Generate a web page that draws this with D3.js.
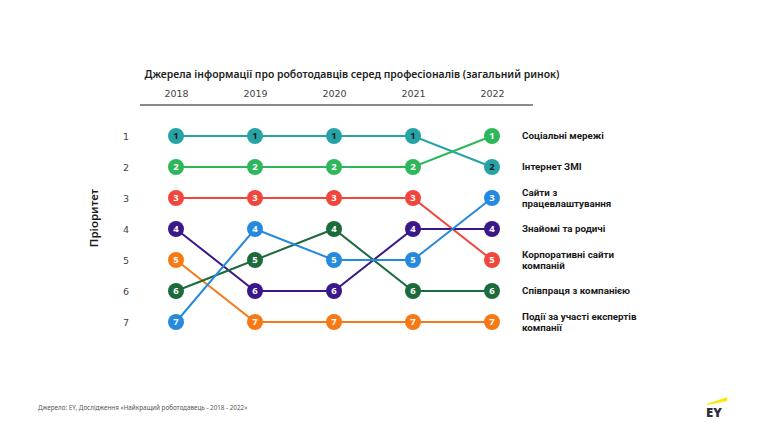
<!DOCTYPE html>
<html><head><meta charset="utf-8">
<script src="https://cdn.jsdelivr.net/npm/d3@7"></script>
<style>body{margin:0;background:#fff;} svg{display:block;}</style>
</head><body>
<svg id="c" width="764" height="430"></svg>
<script>
const years = ["2018","2019","2020","2021","2022"];
const ranks = [1,2,3,4,5,6,7];
const seriesNames = ["Інтернет ЗМІ","Соціальні мережі","Корпоративні сайти компаній","Знайомі та родичі","Події за участі експертів компанії","Співпраця з компанією","Сайти з працевлаштування"];
const seriesRanks = [
  [1,1,1,1,2],
  [2,2,2,2,1],
  [3,3,3,3,5],
  [4,6,6,4,4],
  [5,7,7,7,7],
  [6,5,4,6,6],
  [7,4,5,5,3]
];
const seriesColors = ["#26a3a6","#2db75a","#f1463b","#3b1889","#f77915","#1d6a3c","#2589de"];
const seriesTextColors = ["#1a1a1a","#fff","#fff","#fff","#fff","#fff","#fff"];
const endLabels = [["Соціальні мережі"],["Інтернет ЗМІ"],["Сайти з","працевлаштування"],["Знайомі та родичі"],["Корпоративні сайти","компаній"],["Співпраця з компанією"],["Події за участі експертів","компанії"]];
const title = "Джерела інформації про роботодавців серед професіоналів (загальний ринок)";
const yTitle = "Пріоритет";
const source = "Джерело: EY, Дослідження «Найкращий роботодавець - 2018 - 2022»";

const svg = d3.select("#c");
const x = d3.scalePoint().domain(years).range([176, 492]);
const y = d3.scalePoint().domain(ranks).range([136, 322]);

svg.append("text").attr("x", 352).attr("y", 78).attr("text-anchor","middle")
  .attr("font-family","Noto Sans").attr("font-size",10.8).attr("fill","#222").attr("font-weight","600")
  .attr("textLength",415).attr("lengthAdjust","spacingAndGlyphs").text(title);

// year axis
const xa = svg.append("g").attr("transform","translate(0,97)")
  .call(d3.axisTop(x).tickSize(0).tickPadding(0));
xa.select(".domain").remove();
xa.selectAll("text").attr("font-family","DejaVu Sans").attr("font-size",9.5).attr("fill","#444");
svg.append("line").attr("x1",140).attr("x2",533).attr("y1",105).attr("y2",105).attr("stroke","#8a8a8a").attr("stroke-width",2);

// rank axis
const ya = svg.append("g").attr("transform","translate(129,0)")
  .call(d3.axisLeft(y).tickSize(0).tickPadding(0));
ya.select(".domain").remove();
ya.selectAll("text").attr("font-family","DejaVu Sans").attr("font-size",9.5).attr("fill","#444");

svg.append("text").attr("transform","translate(98,218) rotate(-90)").attr("text-anchor","middle")
  .attr("font-family","Noto Sans").attr("font-weight","600").attr("font-size",11.5).attr("fill","#1a1a1a").text(yTitle);

const line = d3.line().x((d,i)=>x(years[i])).y(d=>y(d));
seriesRanks.forEach((r,si)=>{
  svg.append("path").attr("d", line(r)).attr("fill","none").attr("stroke",seriesColors[si]).attr("stroke-width",2);
});
seriesRanks.forEach((r,si)=>{
  const g = svg.append("g");
  r.forEach((v,i)=>{
    g.append("circle").attr("cx",x(years[i])).attr("cy",y(v)).attr("r",8).attr("fill",seriesColors[si]);
    g.append("text").attr("x",x(years[i])).attr("y",y(v)).attr("dy","0.36em").attr("text-anchor","middle")
      .attr("font-family","Noto Sans").attr("font-weight","bold").attr("font-size",9.5).attr("fill",seriesTextColors[si]).text(v);
  });
});

// end labels
endLabels.forEach((lines,i)=>{
  const yy = y(ranks[i]);
  const t = svg.append("text").attr("x",522).attr("font-family","Roboto").attr("font-weight","bold")
    .attr("font-size",9.8).attr("fill","#1a1a1a");
  if(lines.length===1){
    t.attr("y",yy).attr("dy","0.35em").text(lines[0]);
  } else {
    lines.forEach((l,j)=>t.append("tspan").attr("x",522).attr("y",yy-5.5+j*11.5).attr("dy","0.35em").text(l));
  }
});

svg.append("text").attr("x",38).attr("y",410).attr("font-family","Noto Sans").attr("font-size",6.3).attr("fill","#555").text(source);

// EY logo
svg.append("polygon").attr("points","707,404 727,397 727,401 707,405").attr("fill","#ffe600");
svg.append("text").attr("x",706).attr("y",417).attr("font-family","Noto Sans").attr("font-weight","900").attr("font-size",13).attr("fill","#2e2e38").text("EY");
</script>
</body></html>
